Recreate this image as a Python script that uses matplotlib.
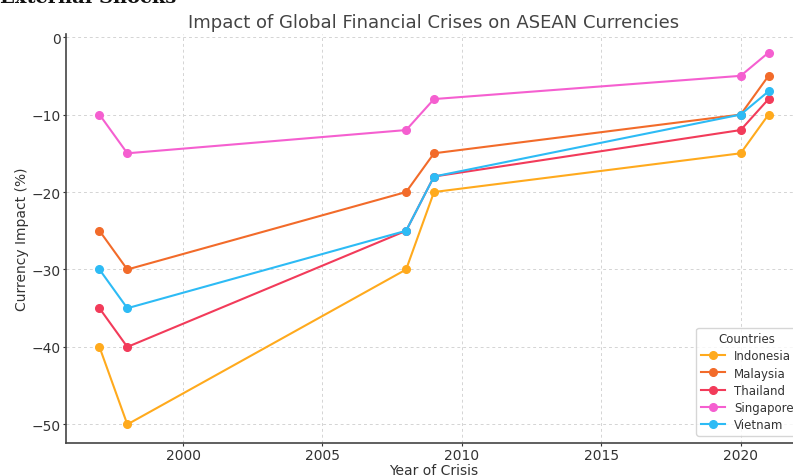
import matplotlib
matplotlib.use("Agg")
import matplotlib.pyplot as plt

years = [1997, 1998, 2008, 2009, 2020, 2021]
countries = ["Indonesia", "Malaysia", "Thailand", "Singapore", "Vietnam"]
indonesia = [-40, -50, -30, -20, -15, -10]
malaysia = [-25, -30, -20, -15, -10, -5]
thailand = [-35, -40, -25, -18, -12, -8]
singapore = [-10, -15, -12, -8, -5, -2]
vietnam = [-30, -35, -25, -18, -10, -7]
colors = ["#FFAA1D", "#F26B2A", "#F23B5A", "#F55FD0", "#2DBBF5"]

series = [indonesia, malaysia, thailand, singapore, vietnam]

fig = plt.figure(figsize=(7.93, 4.77), dpi=100)
ax = fig.add_axes([66 / 793, 33 / 477, 736 / 793, 409 / 477])

for name, vals, c in zip(countries, series, colors):
    ax.plot(years, vals, marker="o", markersize=5.5, lw=1.5, color=c, label=name)

ax.grid(True, linestyle=(0, (3, 3)), color="#d4d4d4", lw=0.7)
ax.set_axisbelow(True)
for s in ["top", "right"]:
    ax.spines[s].set_visible(False)
for s in ["left", "bottom"]:
    ax.spines[s].set_color("#444444")
    ax.spines[s].set_linewidth(1.2)
ax.tick_params(colors="#333333", labelsize=10, length=2.5, pad=1)

ax.set_title("Impact of Global Financial Crises on ASEAN Currencies",
             fontsize=13, color="#444444", pad=5)
ax.set_xlabel("Year of Crisis", fontsize=10, color="#333333", labelpad=1)
ax.set_ylabel("Currency Impact (%)", fontsize=10, color="#333333", labelpad=2)

leg = ax.legend(title="Countries", loc="lower right", fontsize=8.5,
                title_fontsize=8.5, bbox_to_anchor=(0.995, 0.018),
                borderaxespad=0, labelspacing=0.35)
for t in leg.get_texts():
    t.set_color("#333333")
leg.get_title().set_color("#333333")

fig.text(0.0, 0.994, "External Shocks", fontsize=14, fontweight="bold",
         family="DejaVu Serif", va="baseline", ha="left", color="#111111")

fig.savefig("out.png", dpi=100)
